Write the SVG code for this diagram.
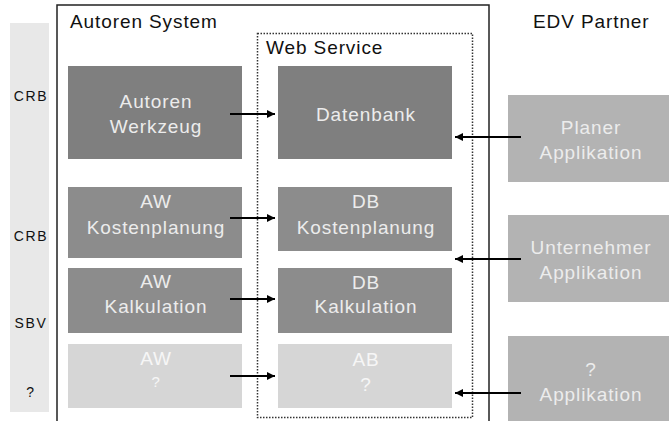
<svg xmlns="http://www.w3.org/2000/svg" width="669" height="421" viewBox="0 0 669 421">
<style>
text{font-family:"Liberation Sans",Arial,sans-serif;}
.lbl{font-size:19px;letter-spacing:0.9px;fill:#111;}
.side{font-size:14px;letter-spacing:1.6px;fill:#111;text-anchor:middle;}
.bt{font-size:19px;letter-spacing:0.9px;fill:#ececec;text-anchor:middle;}
.lt{font-size:19px;letter-spacing:0.9px;fill:#f6f6f6;text-anchor:middle;}
.q{font-size:15px;}
.dark{fill:#7f7f7f;}
.mid{fill:#8c8c8c;}
.light{fill:#d6d6d6;}
.ext{fill:#b3b3b3;}
.conn line{stroke:#000;stroke-width:2;marker-end:url(#ah);}
</style>
<defs>
<marker id="ah" viewBox="0 0 10 10" refX="10" refY="5" markerWidth="4.5" markerHeight="4" markerUnits="strokeWidth" orient="auto">
<path d="M0,0 L10,5 L0,10 z" fill="#000"/>
</marker>
</defs>
<rect width="669" height="421" fill="#fff"/>
<g id="side-bar">
<rect x="10" y="23" width="39" height="389" fill="#e8e8e8"/>
<text class="side" x="31" y="101">CRB</text>
<text class="side" x="31" y="241">CRB</text>
<text class="side" x="31" y="328">SBV</text>
<text class="side" x="31" y="397">?</text>
</g>
<g id="autoren-system">
<rect x="57" y="5" width="432" height="430" fill="none" stroke="#222" stroke-width="1.5"/>
<text class="lbl" x="70" y="28">Autoren System</text>
</g>
<g id="web-service">
<rect x="257.5" y="33.5" width="215" height="384" fill="none" stroke="#333" stroke-width="1.5" stroke-dasharray="1.5,1.5"/>
<text class="lbl" x="266" y="54">Web Service</text>
</g>
<text class="lbl" x="533" y="28">EDV Partner</text>
<g id="autoren-werkzeug">
<rect class="dark" x="68" y="66" width="174" height="93"/>
<text class="bt" x="156" y="108">Autoren</text>
<text class="bt" x="156" y="133">Werkzeug</text>
</g>
<g id="datenbank">
<rect class="dark" x="278" y="66" width="174" height="93"/>
<text class="bt" x="366" y="121">Datenbank</text>
</g>
<g id="aw-kostenplanung">
<rect class="mid" x="68" y="187" width="174" height="71"/>
<text class="bt" x="156" y="208">AW</text>
<text class="bt" x="156" y="234">Kostenplanung</text>
</g>
<g id="db-kostenplanung">
<rect class="mid" x="278" y="187" width="174" height="64"/>
<text class="bt" x="366" y="208">DB</text>
<text class="bt" x="366" y="234">Kostenplanung</text>
</g>
<g id="aw-kalkulation">
<rect class="mid" x="68" y="268" width="174" height="65"/>
<text class="bt" x="156" y="288">AW</text>
<text class="bt" x="156" y="313">Kalkulation</text>
</g>
<g id="db-kalkulation">
<rect class="mid" x="278" y="268" width="174" height="65"/>
<text class="bt" x="366" y="289">DB</text>
<text class="bt" x="366" y="313">Kalkulation</text>
</g>
<g id="aw-q">
<rect class="light" x="68" y="344" width="174" height="64"/>
<text class="lt" x="156" y="365">AW</text>
<text class="lt q" x="156" y="387">?</text>
</g>
<g id="ab-q">
<rect class="light" x="278" y="344" width="174" height="64"/>
<text class="lt" x="366" y="366">AB</text>
<text class="lt" x="366" y="391">?</text>
</g>
<g id="planer-applikation">
<rect class="ext" x="508" y="95" width="170" height="87"/>
<text class="bt" x="591" y="134">Planer</text>
<text class="bt" x="591" y="159">Applikation</text>
</g>
<g id="unternehmer-applikation">
<rect class="ext" x="508" y="215" width="170" height="87"/>
<text class="bt" x="591" y="254">Unternehmer</text>
<text class="bt" x="591" y="279">Applikation</text>
</g>
<g id="q-applikation">
<rect class="ext" x="508" y="336" width="170" height="100"/>
<text class="bt" x="591" y="376">?</text>
<text class="bt" x="591" y="401">Applikation</text>
</g>
<g class="conn" id="connectors">
<line x1="230" y1="114" x2="275" y2="114"/>
<line x1="230" y1="218" x2="275" y2="218"/>
<line x1="230" y1="299" x2="275" y2="299"/>
<line x1="230" y1="376" x2="275" y2="376"/>
<line x1="521" y1="137" x2="455" y2="137"/>
<line x1="521" y1="259" x2="455" y2="259"/>
<line x1="521" y1="393" x2="455" y2="393"/>
</g>
</svg>
